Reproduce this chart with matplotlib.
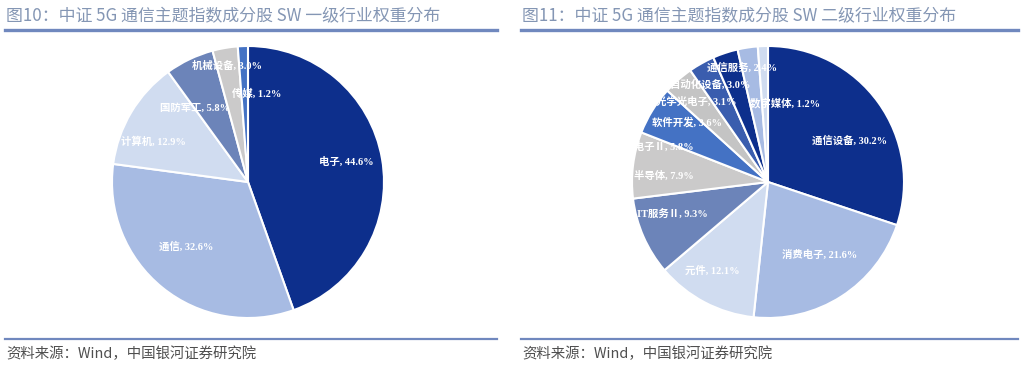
import math
import matplotlib
matplotlib.use("Agg")
import matplotlib.pyplot as plt
from matplotlib.lines import Line2D

# ---------------- data ----------------
left_title = "图10：中证 5G 通信主题指数成分股 SW 一级行业权重分布"
left_categories = ["电子", "通信", "计算机", "国防军工", "机械设备", "传媒"]
left_values = [44.6, 32.6, 12.9, 5.8, 3.0, 1.2]

right_title = "图11：中证 5G 通信主题指数成分股 SW 二级行业权重分布"
right_categories = ["通信设备", "消费电子", "元件", "IT服务Ⅱ", "半导体", "其他电子Ⅱ",
                    "软件开发", "光学光电子", "自动化设备", "通信服务", "数字媒体"]
right_values = [30.2, 21.6, 12.1, 9.3, 7.9, 5.8, 3.6, 3.1, 3.0, 2.4, 1.2]

source_text = "资料来源：Wind，中国银河证券研究院"

# ---------------- style / layout ----------------
W, H = 1027, 370
palette = ["#0D2F8C", "#A7BBE3", "#D0DCF0", "#6C84B9", "#CBCACA", "#4472C4",
           "#C4C4C4", "#3A5DAE"]
rule_color = "#7088BE"
title_color = "#8496B4"
label_font = ["Liberation Serif", "Noto Sans CJK SC"]
cjk_font = ["Noto Sans CJK SC", "DejaVu Sans"]

# per-label radius (fraction of pie radius) and angular nudge (deg)
left_label_r = [0.74, 0.66, 0.76, 0.67, 0.87, 0.65]
left_label_dt = [1.7, -4.7, 7.5, 10.0, 0.5, -8.0]
right_label_r = [0.67, 0.66, 0.77, 0.74, 0.77, 0.88, 0.74, 0.79, 0.83, 0.86, 0.59]
right_label_dt = [-9.0, 2.7, -4.2, -5.1, 3.8, 14.5, 12.4, 12.5, 12.5, 4.2, -14.4]

fig = plt.figure(figsize=(W / 100, H / 100), dpi=100)
fig.patch.set_facecolor("white")


def px(x, y):
    return x / W, 1 - y / H


def draw_panel(x0, x1, cx, cy, radius, title, cats, vals, lab_r, lab_dt):
    # title
    tx, ty = px(x0 + 1, 16)
    fig.text(tx, ty, title, family=cjk_font, fontsize=12.2, color=title_color,
             va="center", ha="left")
    # title rule
    a, b = px(x0, 30)
    c, _ = px(x1, 30)
    fig.add_artist(Line2D([a, c], [b, b], color=rule_color, lw=2.4,
                          transform=fig.transFigure))
    # footer rule
    a, b = px(x0, 338.5)
    fig.add_artist(Line2D([a, c], [b, b], color=rule_color, lw=1.6,
                          transform=fig.transFigure))
    # footer text
    fx, fy = px(x0 + 1, 354)
    fig.text(fx, fy, source_text, family=cjk_font, fontsize=10.4, color="#4F4F4F",
             va="center", ha="left", style="italic")

    # pie
    half = radius * 1.02
    l, btm = (cx - half) / W, 1 - (cy + half) / H
    ax = fig.add_axes([l, btm, 2 * half / W, 2 * half / H])
    colors = [palette[i % len(palette)] for i in range(len(vals))]
    wedges, _ = ax.pie(vals, colors=colors, startangle=90, counterclock=False,
                       radius=1.0,
                       wedgeprops=dict(edgecolor="white", linewidth=1.5))
    ax.set_xlim(-1.02, 1.02)
    ax.set_ylim(-1.02, 1.02)
    ax.set_aspect("equal")
    ax.axis("off")
    for w, cat, val, r, dt in zip(wedges, cats, vals, lab_r, lab_dt):
        mid = math.radians((w.theta1 + w.theta2) / 2 + dt)
        ax.text(r * math.cos(mid), r * math.sin(mid), f"{cat}, {val:.1f}%",
                family=label_font, fontsize=7.5, fontweight="bold",
                color="white", ha="center", va="center")


draw_panel(5, 497, 248, 182, 136, left_title, left_categories, left_values,
           left_label_r, left_label_dt)
draw_panel(521, 1018, 768, 182, 136, right_title, right_categories, right_values,
           right_label_r, right_label_dt)

fig.savefig("out.png", dpi=100, facecolor="white")
